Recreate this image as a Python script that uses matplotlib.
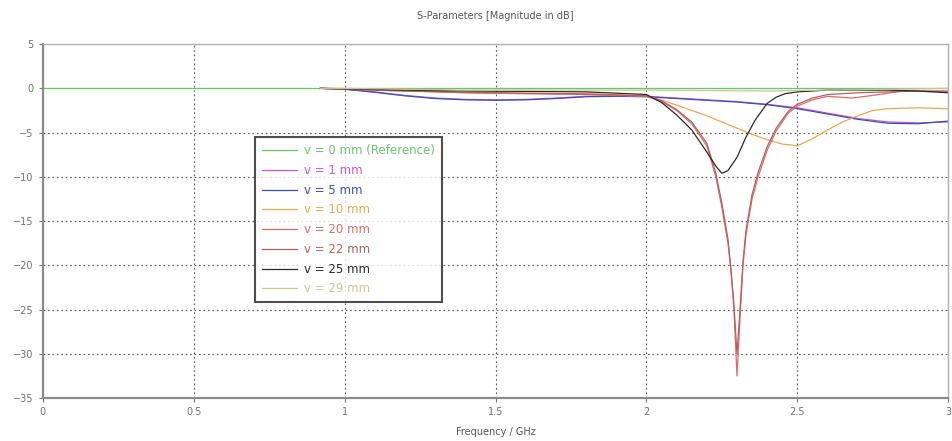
import matplotlib
matplotlib.use("Agg")
import matplotlib.pyplot as plt

# S11 magnitude (dB) per probe offset v
f_ref = [0.0, 3.0]
s_ref = [0.0, 0.0]

f_1mm = [0.92, 1.0, 1.1, 1.2, 1.3, 1.4, 1.5, 1.6, 1.7, 1.8, 1.9, 2.0, 2.1, 2.2, 2.3,
         2.4, 2.5, 2.6, 2.7, 2.8, 2.9, 3.0]
s_1mm = [0.0, -0.1, -0.4, -0.8, -1.1, -1.25, -1.3, -1.25, -1.1, -0.9, -0.85, -0.9, -1.1,
         -1.3, -1.5, -1.8, -2.2, -2.8, -3.4, -3.8, -3.9, -3.8]

f_5mm = f_1mm
s_5mm = [0.0, -0.1, -0.45, -0.85, -1.15, -1.3, -1.35, -1.3, -1.15, -0.95, -0.9, -0.95,
         -1.15, -1.35, -1.55, -1.85, -2.3, -2.9, -3.5, -3.95, -4.0, -3.7]

f_10mm = [0.92, 1.0, 1.2, 1.4, 1.6, 1.8, 2.0, 2.05, 2.1, 2.15, 2.2, 2.25, 2.3, 2.35, 2.4,
          2.45, 2.5, 2.55, 2.6, 2.65, 2.7, 2.75, 2.8, 2.9, 3.0]
s_10mm = [0.0, -0.05, -0.2, -0.5, -0.6, -0.6, -0.9, -1.3, -1.9, -2.5, -3.1, -3.8, -4.5,
          -5.2, -5.8, -6.3, -6.5, -5.7, -4.7, -3.8, -3.1, -2.5, -2.3, -2.2, -2.3]

f_20mm = [0.92, 1.0, 1.2, 1.4, 1.6, 1.8, 2.0, 2.05, 2.1, 2.15, 2.2, 2.23, 2.25, 2.27, 2.28,
          2.29, 2.3, 2.31, 2.32, 2.33, 2.35, 2.37, 2.4, 2.43, 2.47, 2.5, 2.55, 2.6, 2.68,
          2.75, 2.85, 3.0]
s_20mm = [0.0, -0.1, -0.3, -0.5, -0.6, -0.7, -0.9, -1.5, -2.5, -4.0, -6.5, -10.0, -13.5,
          -17.5, -20.5, -25.0, -32.5, -26.0, -20.0, -16.5, -12.5, -10.0, -7.0, -4.8, -2.8,
          -2.0, -1.3, -0.9, -1.1, -0.8, -0.3, -0.4]

f_22mm = [0.92, 1.0, 1.2, 1.4, 1.6, 1.8, 2.0, 2.05, 2.1, 2.15, 2.2, 2.23, 2.25, 2.27, 2.28,
          2.29, 2.3, 2.31, 2.32, 2.33, 2.35, 2.37, 2.4, 2.43, 2.47, 2.5, 2.55, 2.6, 2.7,
          2.8, 2.9, 3.0]
s_22mm = [0.0, -0.1, -0.3, -0.45, -0.55, -0.65, -0.85, -1.4, -2.4, -3.8, -6.2, -9.6, -13.0,
          -17.0, -20.5, -24.5, -30.0, -25.0, -19.5, -16.0, -12.0, -9.5, -6.6, -4.5, -2.6,
          -1.8, -1.1, -0.7, -0.5, -0.4, -0.3, -0.3]

f_25mm = [0.92, 1.0, 1.2, 1.4, 1.6, 1.8, 2.0, 2.05, 2.1, 2.15, 2.2, 2.23, 2.25, 2.27, 2.3,
          2.33, 2.36, 2.4, 2.43, 2.46, 2.5, 2.6, 2.7, 2.8, 2.9, 3.0]
s_25mm = [0.0, -0.05, -0.2, -0.3, -0.35, -0.4, -0.7, -1.6, -3.0, -4.7, -7.2, -8.8, -9.6,
          -9.3, -7.8, -5.5, -3.6, -1.7, -1.0, -0.6, -0.4, -0.2, -0.2, -0.2, -0.3, -0.5]

f_29mm = [0.92, 1.0, 1.2, 1.4, 1.6, 1.8, 2.0, 2.2, 2.4, 2.6, 2.8, 3.0]
s_29mm = [0.0, 0.0, -0.1, -0.2, -0.2, -0.2, -0.2, -0.25, -0.3, -0.2, -0.1, 0.0]

labels = ["v = 0 mm (Reference)", "v = 1 mm", "v = 5 mm", "v = 10 mm",
          "v = 20 mm", "v = 22 mm", "v = 25 mm", "v = 29 mm"]
colors = ["#6cc46c", "#cc55cc", "#3a4fb8", "#e8a850", "#e06a6a", "#b46060",
          "#2a2a2a", "#c8c890"]
series = [(f_ref, s_ref), (f_1mm, s_1mm), (f_5mm, s_5mm), (f_10mm, s_10mm),
          (f_20mm, s_20mm), (f_22mm, s_22mm), (f_25mm, s_25mm), (f_29mm, s_29mm)]

fig = plt.figure(figsize=(9.53, 4.41), dpi=100)
ax = fig.add_axes([0.045, 0.0975, 0.950, 0.8025])

for (f, s), lab, col in zip(series, labels, colors):
    ax.plot(f, s, color=col, lw=0.9, label=lab)

ax.set_xlim(0, 3)
ax.set_ylim(-35, 5)
ax.set_xticks([0, 0.5, 1, 1.5, 2, 2.5, 3])
ax.set_xticklabels(["0", "0.5", "1", "1.5", "2", "2.5", "3"])
ax.set_yticks(range(-35, 6, 5))
ax.grid(True, color="#555555", linestyle=(0, (1.5, 2.5)), lw=0.8)
ax.tick_params(labelsize=7, colors="#707070", length=3, width=0.8)
for side in ["left", "bottom"]:
    ax.spines[side].set_color("#8a8a8a")
    ax.spines[side].set_linewidth(1.6)
for side in ["top", "right"]:
    ax.spines[side].set_color("#b0b0b0")
    ax.spines[side].set_linewidth(1.0)

ax.set_title("S-Parameters [Magnitude in dB]", fontsize=7, color="#555555", pad=18)
ax.set_xlabel("Frequency / GHz", fontsize=7, color="#555555", labelpad=7)

leg = ax.legend(loc="upper left", bbox_to_anchor=(0.234, 0.737), fontsize=8.5,
                frameon=True, fancybox=False, handlelength=3.0, labelspacing=0.57,
                borderpad=0.6, handletextpad=0.6, borderaxespad=0)
leg.get_frame().set_edgecolor("#222222")
leg.get_frame().set_linewidth(1.5)
for txt, col in zip(leg.get_texts(), colors):
    txt.set_color(col)

fig.savefig("out.png", dpi=100)
